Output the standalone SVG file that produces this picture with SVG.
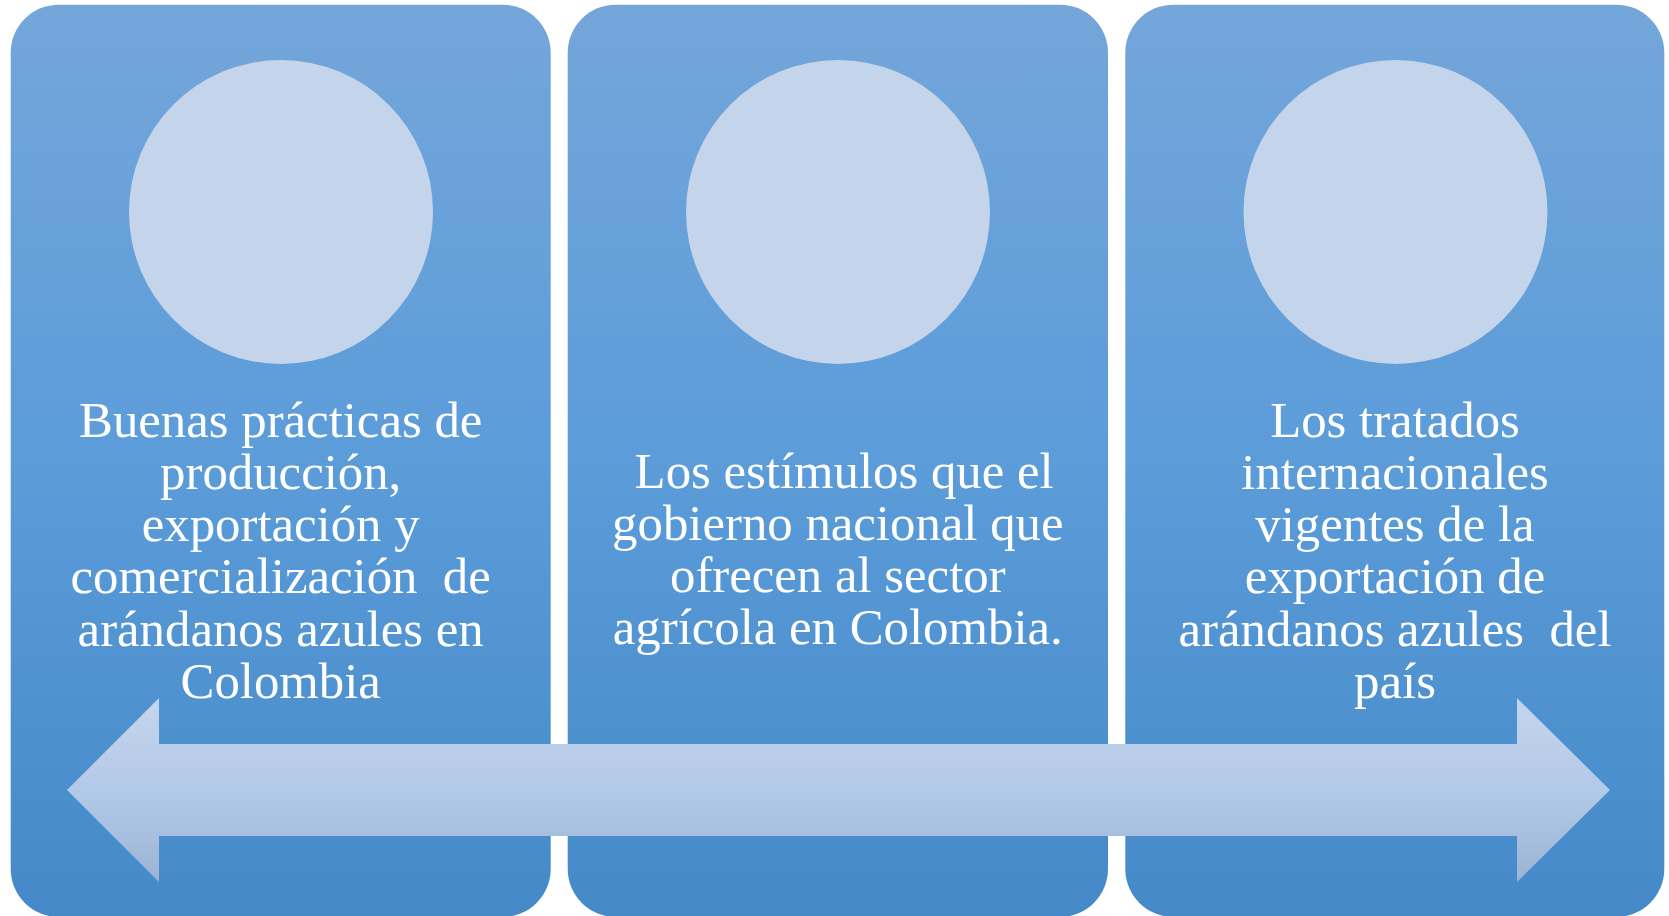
<svg xmlns="http://www.w3.org/2000/svg" width="1669" height="916" viewBox="0 0 1669 916">
<defs>
<linearGradient id="panelGrad" x1="0" y1="0" x2="0" y2="1">
<stop offset="0" stop-color="#74a6da"/>
<stop offset="0.5" stop-color="#5b9cd9"/>
<stop offset="1" stop-color="#4589c8"/>
</linearGradient>
<linearGradient id="arrowGrad" gradientUnits="userSpaceOnUse" x1="0" y1="698" x2="0" y2="882">
<stop offset="0" stop-color="#c5d5ec"/>
<stop offset="0.5" stop-color="#b3c9e8"/>
<stop offset="1" stop-color="#9db3d3"/>
</linearGradient>
<style>
.panel{fill:url(#panelGrad);}
.circ{fill:#c4d4ea;}
.lbl{font-family:"Liberation Serif","Times New Roman",serif;font-size:50.8px;fill:#ffffff;text-anchor:middle;}
</style>
</defs>
<rect width="1669" height="916" fill="#ffffff"/>
<g id="node1">
<rect class="panel" x="10.7" y="4.7" width="540" height="912.3" rx="48" ry="48"/>
<circle class="circ" cx="281" cy="212" r="152"/>
<text class="lbl" xml:space="preserve"><tspan x="280.7" y="436.7">Buenas prácticas de</tspan><tspan x="280.7" y="488.9">producción,</tspan><tspan x="280.7" y="541.1">exportación y</tspan><tspan x="280.7" y="593.3">comercialización  de</tspan><tspan x="280.7" y="645.5">arándanos azules en</tspan><tspan x="280.7" y="697.7">Colombia</tspan></text>
</g>
<g id="node2">
<rect class="panel" x="567.7" y="4.7" width="540.3" height="912.3" rx="48" ry="48"/>
<circle class="circ" cx="838" cy="212" r="152"/>
<text class="lbl" xml:space="preserve"><tspan x="837.8" y="488.4"> Los estímulos que el</tspan><tspan x="837.8" y="540.2">gobierno nacional que</tspan><tspan x="837.8" y="592">ofrecen al sector</tspan><tspan x="837.8" y="643.8">agrícola en Colombia.</tspan></text>
</g>
<g id="node3">
<rect class="panel" x="1125.3" y="4.7" width="539" height="912.3" rx="48" ry="48"/>
<circle class="circ" cx="1395.5" cy="212" r="152"/>
<text class="lbl" xml:space="preserve"><tspan x="1395" y="436.7">Los tratados</tspan><tspan x="1395" y="488.9">internacionales</tspan><tspan x="1395" y="541.1">vigentes de la</tspan><tspan x="1395" y="593.3">exportación de</tspan><tspan x="1395" y="645.5">arándanos azules  del</tspan><tspan x="1395" y="697.7">país</tspan></text>
</g>
<g id="connectors">
<polygon fill="url(#arrowGrad)" points="67,790 159,698 159,744 1517,744 1517,698 1610,790 1517,882 1517,836 159,836 159,882"/>
</g>
</svg>
